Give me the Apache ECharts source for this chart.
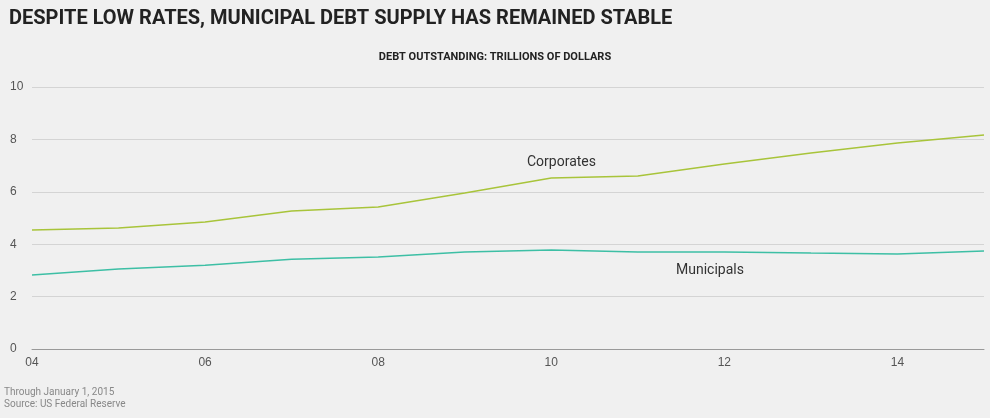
<!DOCTYPE html>
<html><head><meta charset="utf-8">
<script src="https://cdn.jsdelivr.net/npm/echarts@6/dist/echarts.min.js"></script>
<style>html,body{margin:0;background:#f0f0f0}#c{width:990px;height:418px}</style>
</head><body><div id="c"></div>
<script>
const years = [2004,2005,2006,2007,2008,2009,2010,2011,2012,2013,2014,2015];
const corporates = [4.54,4.62,4.85,5.27,5.42,5.95,6.53,6.6,7.06,7.48,7.86,8.17];
const municipals = [2.82,3.05,3.2,3.43,3.51,3.7,3.78,3.7,3.7,3.66,3.63,3.74];
const chart = echarts.init(document.getElementById('c'));
chart.setOption({
  backgroundColor:'#f0f0f0',
  animation:false,
  title:[
    {text:'DESPITE LOW RATES, MUNICIPAL DEBT SUPPLY HAS REMAINED STABLE',left:4,top:4,textStyle:{fontFamily:'Roboto',fontWeight:'bold',fontSize:20,color:'#222'}},
    {text:'DEBT OUTSTANDING: TRILLIONS OF DOLLARS',left:'center',top:47,textStyle:{fontFamily:'Roboto',fontWeight:'bold',fontSize:11,color:'#222'}}
  ],
  grid:{left:32,right:6,top:87,bottom:69},
  xAxis:{type:'value',min:2004,max:2015,interval:2,
    axisLabel:{formatter:v=>String(v).slice(2),color:'#555',fontSize:12,showMaxLabel:false},
    axisLine:{lineStyle:{color:'#999'}},axisTick:{show:false},splitLine:{show:false}},
  yAxis:{type:'value',min:0,max:10,interval:2,
    axisLabel:{color:'#555',fontSize:12,margin:22,align:'left'},
    axisLine:{show:false},axisTick:{show:false},splitLine:{lineStyle:{color:'#d4d4d4'}}},
  series:[
    {type:'line',data:years.map((y,i)=>[y,corporates[i]]),showSymbol:false,lineStyle:{color:'#a8c43a',width:1.5},itemStyle:{color:'#a8c43a'}},
    {type:'line',data:years.map((y,i)=>[y,municipals[i]]),showSymbol:false,lineStyle:{color:'#3dbfa5',width:1.5},itemStyle:{color:'#3dbfa5'}}
  ],
  graphic:[
    {type:'text',left:527,top:155,style:{text:'Corporates',fill:'#333',font:'14px Roboto'}},
    {type:'text',left:676,top:263,style:{text:'Municipals',fill:'#333',font:'14px Roboto'}},
    {type:'text',left:4,top:386,style:{text:'Through January 1, 2015\nSource: US Federal Reserve',fill:'#888',font:'10px Roboto',lineHeight:12}}
  ]
});
</script></body></html>
